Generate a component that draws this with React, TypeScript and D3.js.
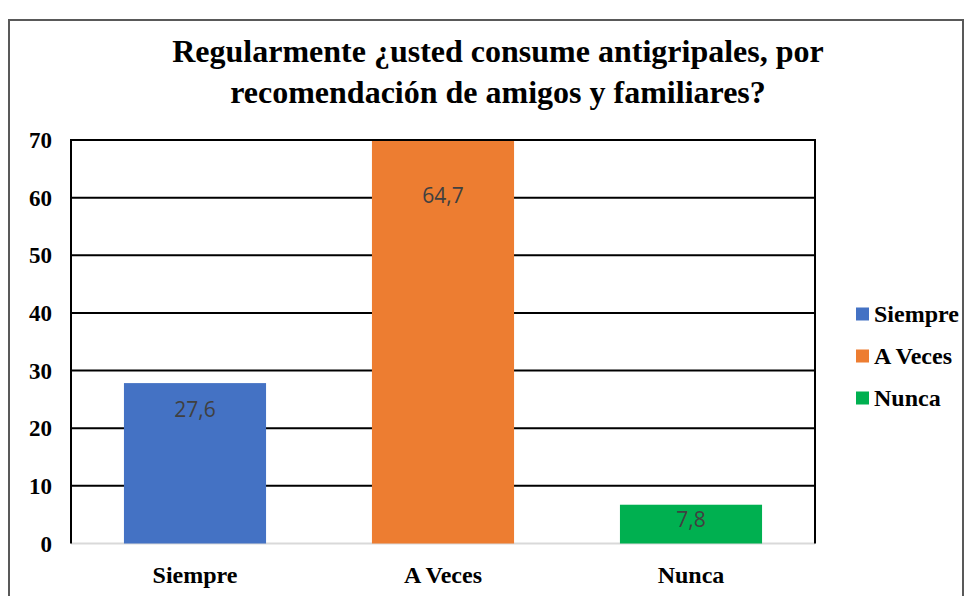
import React, { useRef, useEffect } from "react";
import * as d3 from "d3";

const categories = ["Siempre", "A Veces", "Nunca"];
// value shown on each bar
const labels = [27.6, 64.7, 7.8];
// bar heights as drawn in the picture (the middle one is cut at the top of the axis)
const barHeights = [28, 70, 6.9];
const yTicks = [0, 10, 20, 30, 40, 50, 60, 70];
const colors = ["#4472C4", "#ED7D31", "#00B050"];
const titleLines = [
  "Regularmente ¿usted consume antigripales, por",
  "recomendación de amigos y familiares?",
];

const App = () => {
  const wrapper = useRef<HTMLDivElement>(null);
  const width = 971;
  const height = 596;

  useEffect(() => {
    d3.select(wrapper.current).selectAll("svg").remove();

    const svg = d3
      .select(wrapper.current)
      .append("svg")
      .attr("width", width)
      .attr("height", height)
      .style("display", "block");

    const serif = "'Liberation Serif', 'Times New Roman', serif";
    const plot = { left: 71, right: 815, top: 140, bottom: 543.5 };

    // chart frame
    svg
      .append("rect")
      .attr("x", 9)
      .attr("y", 20)
      .attr("width", 954)
      .attr("height", 600)
      .attr("fill", "white")
      .attr("stroke", "#595959")
      .attr("stroke-width", 2);

    svg
      .append("g")
      .selectAll("text")
      .data(titleLines)
      .enter()
      .append("text")
      .attr("x", 498)
      .attr("y", (d, i) => 51 + i * 41)
      .attr("dy", "0.35em")
      .attr("text-anchor", "middle")
      .style("font-family", serif)
      .style("font-weight", "bold")
      .style("font-size", "32px")
      .text((d) => d);

    const x = d3
      .scaleBand()
      .domain(categories)
      .range([plot.left, plot.right])
      .paddingInner(0.427)
      .paddingOuter(0.2135);

    const y = d3.scaleLinear().domain([0, 70]).range([plot.bottom, plot.top]);

    // gridlines (0 is the light baseline)
    svg
      .append("g")
      .selectAll("line")
      .data(yTicks.filter((t) => t > 0 && t < 70))
      .enter()
      .append("line")
      .attr("x1", plot.left)
      .attr("x2", plot.right)
      .attr("y1", (d) => y(d))
      .attr("y2", (d) => y(d))
      .attr("stroke", "#000")
      .attr("stroke-width", 2);

    svg
      .append("line")
      .attr("x1", plot.left)
      .attr("x2", plot.right)
      .attr("y1", y(0))
      .attr("y2", y(0))
      .attr("stroke", "#d9d9d9")
      .attr("stroke-width", 2);

    svg
      .append("g")
      .selectAll("rect")
      .data(categories)
      .enter()
      .append("rect")
      .attr("x", (d) => x(d)!)
      .attr("width", x.bandwidth())
      .attr("y", (d, i) => y(barHeights[i]) + 1)
      .attr("height", (d, i) => y(0) - y(barHeights[i]) - 1)
      .attr("fill", (d, i) => colors[i]);

    // plot border: top line at 70 plus the two sides
    svg
      .append("path")
      .attr("d", `M${plot.left},${y(0)}V${y(70)}H${plot.right}V${y(0)}`)
      .attr("fill", "none")
      .attr("stroke", "#000")
      .attr("stroke-width", 2);

    svg
      .append("g")
      .selectAll("text")
      .data(categories)
      .enter()
      .append("text")
      .attr("x", (d) => x(d)! + x.bandwidth() / 2)
      .attr("y", (d, i) => Math.min(y(labels[i]) + 25, y(0) - 24))
      .attr("dy", "0.35em")
      .attr("text-anchor", "middle")
      .attr("fill", "#404040")
      .style("font-family", "'Open Sans', sans-serif")
      .style("font-size", "21px")
      .text((d, i) => String(labels[i]).replace(".", ","));

    // y axis labels
    svg
      .append("g")
      .selectAll("text")
      .data(yTicks)
      .enter()
      .append("text")
      .attr("x", 52)
      .attr("y", (d) => y(d))
      .attr("dy", "0.35em")
      .attr("text-anchor", "end")
      .style("font-family", serif)
      .style("font-weight", "bold")
      .style("font-size", "23px")
      .text((d) => d);

    // x axis labels
    svg
      .append("g")
      .selectAll("text")
      .data(categories)
      .enter()
      .append("text")
      .attr("x", (d) => x(d)! + x.bandwidth() / 2)
      .attr("y", 575)
      .attr("dy", "0.35em")
      .attr("text-anchor", "middle")
      .style("font-family", serif)
      .style("font-weight", "bold")
      .style("font-size", "24px")
      .text((d) => d);

    // legend
    const legend = svg
      .append("g")
      .selectAll("g")
      .data(categories)
      .enter()
      .append("g")
      .attr("transform", (d, i) => `translate(856,${314 + i * 42})`);

    legend
      .append("rect")
      .attr("x", 0)
      .attr("y", -6.5)
      .attr("width", 13)
      .attr("height", 13)
      .attr("fill", (d, i) => colors[i]);

    legend
      .append("text")
      .attr("x", 18)
      .attr("y", 0)
      .attr("dy", "0.35em")
      .style("font-family", serif)
      .style("font-weight", "bold")
      .style("font-size", "24px")
      .text((d) => d);
  }, []);

  return (
    <div ref={wrapper} style={{ position: "absolute", left: 0, top: 0 }}></div>
  );
};

export default App;
